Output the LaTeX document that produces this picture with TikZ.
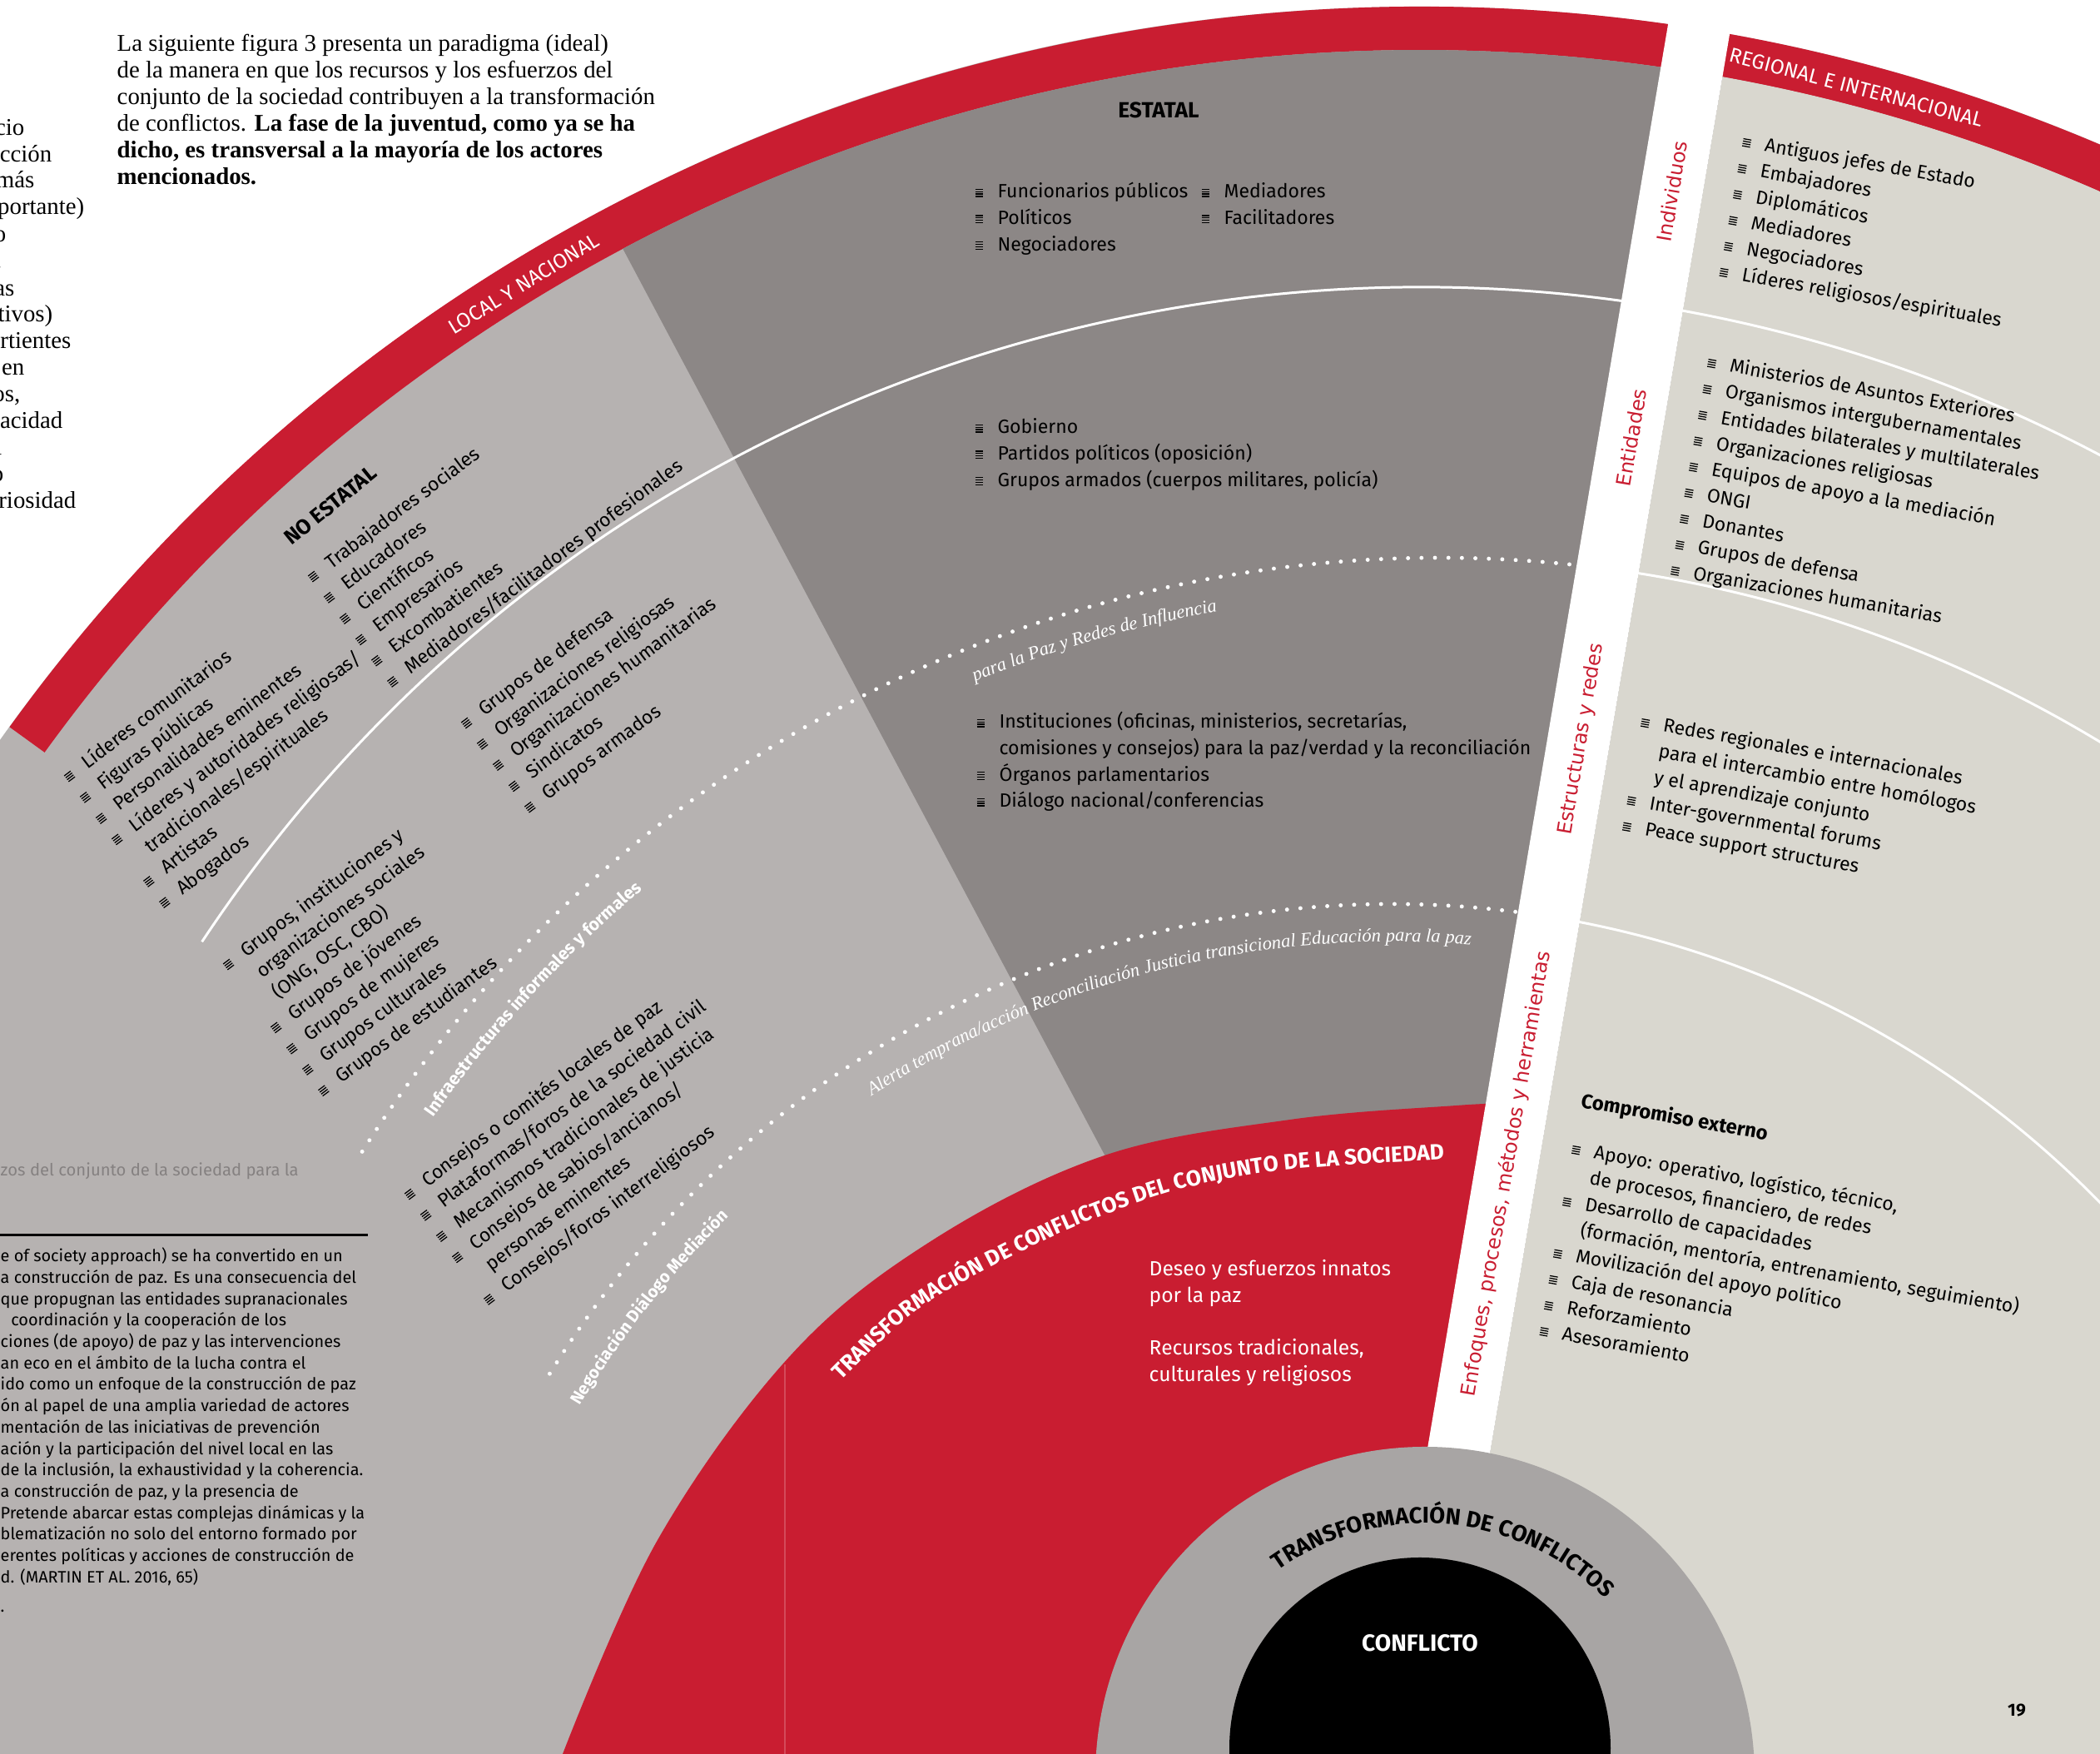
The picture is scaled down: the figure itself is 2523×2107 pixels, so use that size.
\documentclass[tikz,border=0pt]{standalone}
\usepackage{fontspec}
\setmainfont{Fira Sans}
\newfontfamily\serif{Liberation Serif}
\newfontfamily\sidefont{DejaVu Sans}
\usetikzlibrary{decorations.text}

\definecolor{lgray}{HTML}{B6B2B1}
\definecolor{dgray}{HTML}{8C8786}
\definecolor{beige}{HTML}{D9D7CF}
\definecolor{fred}{HTML}{C91D31}
\definecolor{rgray}{HTML}{A8A5A4}
\definecolor{capgray}{HTML}{858181}

% little striped bullet of the lists
\newcommand\bul{\raisebox{.06em}{\vbox{\hrule width .42em height .055em\kern.07em
  \hrule width .42em height .055em\kern.07em\hrule width .42em height .055em\kern.07em
  \hrule width .42em height .055em}}}
\newcommand\blist[1]{\begin{tabular}[t]{@{}l@{\hspace{.75em}}l@{}}#1\end{tabular}}
\newcommand\tlines[1]{\begin{tabular}[t]{@{}l@{}}#1\end{tabular}}

\tikzset{
  lst/.style={inner sep=0pt, anchor=base west, font=\fontsize{6.55}{9}\selectfont},
  llst/.style={lst, rotate=37},
  rlst/.style={lst, rotate=-10},
  sidelbl/.style={inner sep=0pt, text=fred, rotate=80.4, font=\sidefont\fontsize{6.8}{8}\selectfont},
  bandlbl/.style={inner sep=0pt, text=white, font=\fontsize{7}{8}\selectfont},
  wline/.style={white, line width=0.85pt},
  dotline/.style={white, line width=1.4pt, line cap=round, dash pattern=on 0pt off 4.6pt},
  frag/.style={inner sep=0pt, anchor=base east, font=\serif\fontsize{8.2}{9}\selectfont},
  capt/.style={inner sep=0pt, anchor=base west, font=\fontsize{5.65}{7.3}\selectfont},
}

\begin{document}
\begin{tikzpicture}[x=0.01cm, y=0.01cm]
  \useasboundingbox (0,0) rectangle (2523,2107);
  \fill[white] (0,0) rectangle (2523,2107);
  % Discs and sectors
  \fill[lgray] (1706,7) circle[radius=2092];
  \fill[fred, shift={(1706,7)}] (144.1:2092) arc[start angle=144.1, end angle=-5, radius=2092]
    -- (-5:2040) arc[start angle=-5, end angle=144.1, radius=2040] -- cycle;
  \fill[dgray, shift={(1706,7)}] (0,0) -- (118:2040) arc[start angle=118, end angle=60, radius=2040] -- cycle;
  \begin{scope}
    \clip (1706,7) circle[radius=2040];
    \fill[beige] (2085,2107) -- (2523,2107) -- (2523,0) -- (1729,0) -- cycle;
  \end{scope}
  % Row lines, solid and dotted
  \draw[wline, shift={(1706,7)}] (146.5:1755) arc[start angle=146.5, end angle=25, radius=1755];
  \draw[dotline, shift={(1730,-95)}] (147.7:1532) arc[start angle=147.7, end angle=83.5, radius=1532];
  \draw[wline, shift={(1730,-95)}] (82:1532) arc[start angle=82, end angle=40, radius=1532];
  \draw[dotline, shift={(1672,-168)}] (148.3:1189) arc[start angle=148.3, end angle=82, radius=1189];
  \draw[wline, shift={(1672,-168)}] (80:1189) arc[start angle=80, end angle=30, radius=1189];
  % Red area of the whole society
  \fill[fred] plot[smooth, tension=0.6] coordinates {(676,0) (790,257) (950,479) (1120,617) (1327,719)
    (1550,762) (1750,779) (1823,782)} -- (1691,0) -- cycle;
  \draw[fred!80!white, line width=0.4pt] (943,0) -- (943,468);
  % White band between local and international
  \fill[white] (2009,2107) -- (2085,2107) -- (1729,0) -- (1653,0) -- cycle;
  % Inner rings
  \fill[rgray] (1712,-27) circle[radius=396];
  \fill[black] (1706,7) circle[radius=229];
  \node[text=white, font=\bfseries\fontsize{8}{9}\selectfont] (confl) at (1706,133) {CONFLICTO};
  \path[decorate, decoration={text along path, text align=center, text color=black,
      text={|\bfseries\fontsize{7.8}{9}\selectfont|TRANSFORMACIÓN DE CONFLICTOS}}, shift={(1712,-27)}]
    (140:304) arc[start angle=140, end angle=30, radius=304];
  \path[decorate, decoration={text along path, text align=left, text color=white,
      text={|\bfseries\fontsize{7.5}{9}\selectfont|TRANSFORMACIÓN DE CONFLICTOS DEL CONJUNTO DE LA SOCIEDAD}}]
    plot[smooth] coordinates {(1010,448) (1100,532) (1205,592) (1307,640) (1424,680) (1550,702) (1736,714) (1830,716)};
  \node[lst, text=white, font=\fontsize{7}{9}\selectfont] (deseo) at (1380,574) {\tlines{Deseo y esfuerzos innatos\\ por la paz}};
  \node[lst, text=white, font=\fontsize{7}{9}\selectfont] (recur) at (1380,479) {\tlines{Recursos tradicionales,\\ culturales y religiosos}};
  % Labels on the dotted lines
  \path[decorate, decoration={text along path, text align=left, text color=white,
      text={|\bfseries\fontsize{6}{7}\selectfont|Infraestructuras informales y formales}}, shift={(1730,-95)}]
    (144.6:1484) arc[start angle=144.6, end angle=118, radius=1484];
  \path[decorate, decoration={text along path, text align=left, text color=white,
      text={|\serif\itshape\fontsize{6.4}{7}\selectfont|para la Paz y Redes de Influencia}}, shift={(1730,-95)}]
    (112:1492) arc[start angle=112, end angle=92, radius=1492];
  \path[decorate, decoration={text along path, text align=left, text color=white,
      text={|\bfseries\fontsize{5.8}{7}\selectfont|Negociación Diálogo Mediación}}, shift={(1672,-168)}]
    (149:1138) arc[start angle=149, end angle=122, radius=1138];
  \path[decorate, decoration={text along path, text align=left, text color=white,
      text={|\serif\itshape\fontsize{6.4}{7}\selectfont|Alerta temprana/acción Reconciliación Justicia transicional Educación para la paz}}, shift={(1672,-168)}]
    (123.1:1144) arc[start angle=123.1, end angle=75, radius=1144];
  % Band titles
  \node[bandlbl, rotate=31.5] (local) at (629,1766) {LOCAL Y NACIONAL};
  \node[bandlbl, rotate=-14.7] (regio) at (2230,2002) {REGIONAL E INTERNACIONAL};
  \node[sidelbl] (indiv) at (2009,1877) {Individuos};
  \node[sidelbl] (entid) at (1960,1581) {Entidades};
  \node[sidelbl] (estru) at (1900,1219) {Estructuras y redes};
  \node[sidelbl] (enfoq) at (1810,697) {Enfoques, procesos, métodos y herramientas};
  % Non-state actors
  \node[rotate=39, font=\bfseries\fontsize{7.2}{9}\selectfont] (noest) at (397,1500) {NO ESTATAL};
  \node[llst] (trab) at (376,1406) {\blist{\bul & Trabajadores sociales\\ \bul & Educadores\\ \bul & Científicos\\
    \bul & Empresarios\\ \bul & Excombatientes\\ \bul & Mediadores/facilitadores profesionales}};
  \node[llst] (lider) at (83,1166) {\blist{\bul & Líderes comunitarios\\ \bul & Figuras públicas\\ \bul & Personalidades eminentes\\
    \bul & Líderes y autoridades religiosas/\\ & tradicionales/espirituales\\ \bul & Artistas\\ \bul & Abogados}};
  \node[llst] (grdef) at (560,1230) {\blist{\bul & Grupos de defensa\\ \bul & Organizaciones religiosas\\
    \bul & Organizaciones humanitarias\\ \bul & Sindicatos\\ \bul & Grupos armados}};
  \node[llst] (grins) at (274,940) {\blist{\bul & Grupos, instituciones y\\ & organizaciones sociales\\ & (ONG, OSC, CBO)\\
    \bul & Grupos de jóvenes\\ \bul & Grupos de mujeres\\ \bul & Grupos culturales\\ \bul & Grupos de estudiantes}};
  \node[llst] (conse) at (492,664) {\blist{\bul & Consejos o comités locales de paz\\ \bul & Plataformas/foros de la sociedad civil\\
    \bul & Mecanismos tradicionales de justicia\\ \bul & Consejos de sabios/ancianos/\\ & personas eminentes\\
    \bul & Consejos/foros interreligiosos}};
  % State actors
  \node[font=\bfseries\fontsize{7.5}{9}\selectfont] (estat) at (1392,1975) {ESTATAL};
  \node[lst] (func) at (1171,1869) {\blist{\bul & Funcionarios públicos\\ \bul & Políticos\\ \bul & Negociadores}};
  \node[lst] (medi) at (1443,1869) {\blist{\bul & Mediadores\\ \bul & Facilitadores}};
  \node[lst] (gobi) at (1171,1586) {\blist{\bul & Gobierno\\ \bul & Partidos políticos (oposición)\\
    \bul & Grupos armados (cuerpos militares, policía)}};
  \node[lst] (inst) at (1173,1232) {\blist{\bul & Instituciones (oficinas, ministerios, secretarías,\\
    & comisiones y consejos) para la paz/verdad y la reconciliación\\ \bul & Órganos parlamentarios\\
    \bul & Diálogo nacional/conferencias}};
  % Regional and international actors
  \node[rlst] (antig) at (2092,1930) {\blist{\bul & Antiguos jefes de Estado\\ \bul & Embajadores\\ \bul & Diplomáticos\\
    \bul & Mediadores\\ \bul & Negociadores\\ \bul & Líderes religiosos/espirituales}};
  \node[rlst] (minis) at (2050,1665) {\blist{\bul & Ministerios de Asuntos Exteriores\\ \bul & Organismos intergubernamentales\\
    \bul & Entidades bilaterales y multilaterales\\ \bul & Organizaciones religiosas\\ \bul & Equipos de apoyo a la mediación\\
    \bul & ONGI\\ \bul & Donantes\\ \bul & Grupos de defensa\\ \bul & Organizaciones humanitarias}};
  \node[rlst] (redes) at (1970,1233) {\blist{\bul & Redes regionales e internacionales\\ & para el intercambio entre homólogos\\
    & y el aprendizaje conjunto\\ \bul & Inter-governmental forums\\ \bul & Peace support structures}};
  \node[rlst, font=\bfseries\fontsize{6.8}{9}\selectfont] (compr) at (1898,777) {Compromiso externo};
  \node[rlst] (apoyo) at (1887,720) {\blist{\bul & Apoyo: operativo, logístico, técnico,\\ & de procesos, financiero, de redes\\
    \bul & Desarrollo de capacidades\\ & (formación, mentoría, entrenamiento, seguimiento)\\
    \bul & Movilización del apoyo político\\ \bul & Caja de resonancia\\ \bul & Reforzamiento\\ \bul & Asesoramiento}};
  % Page text around the figure
  \node[inner sep=0pt, anchor=base west, font=\serif\fontsize{8.2}{9.07}\selectfont] (intro) at (140,2045)
    {\tlines{La siguiente figura 3 presenta un paradigma (ideal)\\ de la manera en que los recursos y los esfuerzos del\\
    conjunto de la sociedad contribuyen a la transformación\\ de conflictos. \textbf{La fase de la juventud, como ya se ha}\\
    \textbf{dicho, es transversal a la mayoría de los actores}\\ \textbf{mencionados.}}};
  \foreach \t/\x/\y in {{cio}/30/1944, {ección}/63/1912, {más}/42/1881, {portante)}/102/1849, {o}/8/1816, {.}/3/1784,
    {as}/18/1751, {tivos)}/64/1720, {rtientes}/86/1688, {en}/30/1656, {os,}/25/1624, {acidad}/76/1592,
    {a}/3/1560, {o}/5/1528, {riosidad}/92/1496}
    \node[frag] at (\x,\y) {\t};
  \node[capt, text=capgray, font=\fontsize{5.75}{7}\selectfont] (gtit) at (0,694) {zos del conjunto de la sociedad para la};
  \draw[line width=0.85pt] (0,623) -- (442,623);
  \node[capt] (quote) at (0,591) {\tlines{e of society approach) se ha convertido en un\\
    a construcción de paz. Es una consecuencia del\\ que propugnan las entidades supranacionales\\
    \hspace*{3.6pt}coordinación y la cooperación de los\\ ciones (de apoyo) de paz y las intervenciones\\
    an eco en el ámbito de la lucha contra el\\ ido como un enfoque de la construcción de paz\\
    ón al papel de una amplia variedad de actores\\ mentación de las iniciativas de prevención\\
    ación y la participación del nivel local en las\\ de la inclusión, la exhaustividad y la coherencia.\\
    a construcción de paz, y la presencia de\\ Pretende abarcar estas complejas dinámicas y la\\
    blematización no solo del entorno formado por\\ erentes políticas y acciones de construcción de\\
    d. (MARTIN ET AL. 2016, 65)}};
  \node[capt] (dot) at (0,170) {.};
  \node[font=\bfseries\fontsize{6}{7}\selectfont] (pnum) at (2423,52) {19};
\end{tikzpicture}
\end{document}
